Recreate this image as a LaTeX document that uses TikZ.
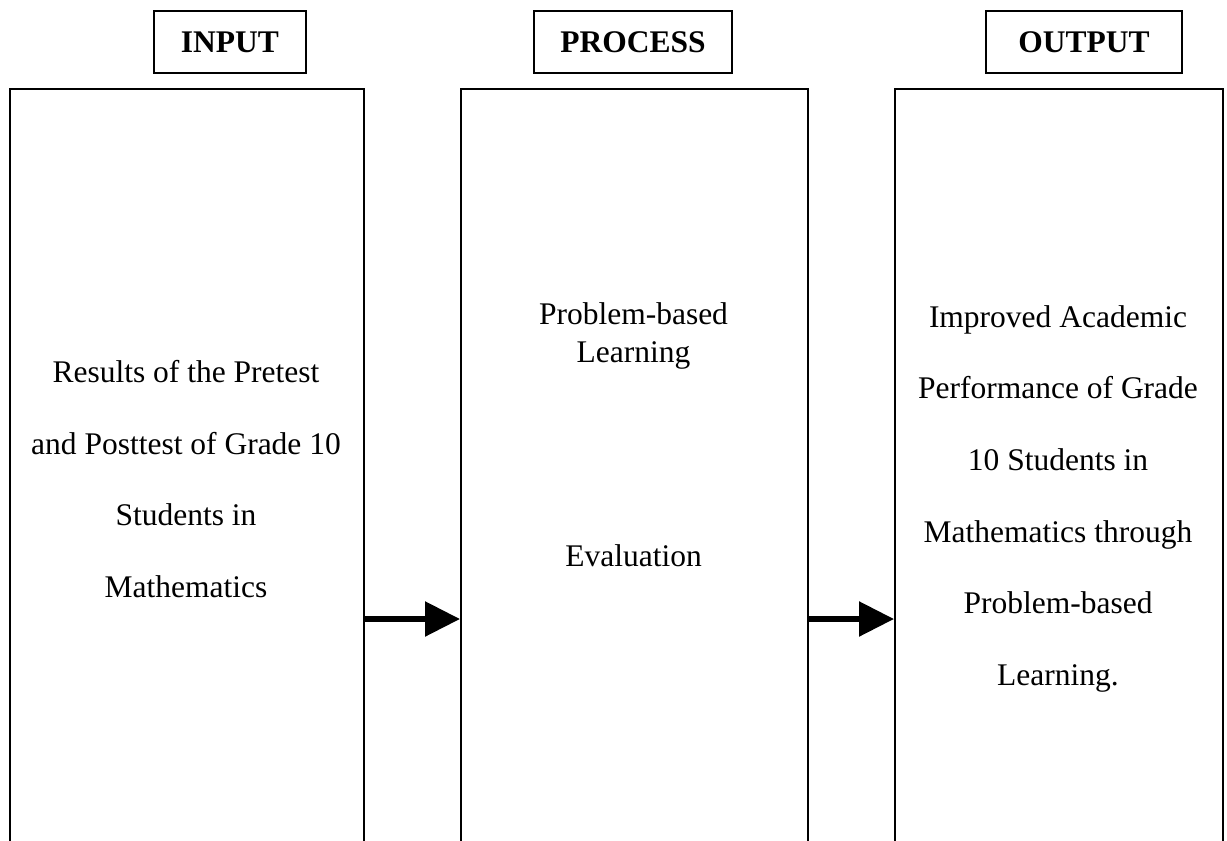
\documentclass[tikz,border=0pt]{standalone}
\usepackage{fontspec}
\setmainfont{Liberation Serif}
\usetikzlibrary{arrows.meta}
\begin{document}
\begin{tikzpicture}[x=1pt,y=-1pt,
  every node/.style={font=\fontsize{31.5}{36}\selectfont, inner sep=0pt},
  headbox/.style={draw, line width=1.8pt, font=\fontsize{31.5}{36}\selectfont\bfseries,
    minimum height=62pt, anchor=north west},
  colbox/.style={draw, line width=1.8pt, minimum height=800pt, anchor=north west},
  txt/.style={anchor=base},
  flow/.style={line width=5.5pt, -{Triangle[length=35pt,width=34pt]}}]
  \useasboundingbox (0,0) rectangle (1227,841);
  \begin{scope}
    \clip (0,0) rectangle (1227,841);
    % column headings
    \node[headbox, minimum width=152pt] (hin) at (153,10) {INPUT};
    \node[headbox, minimum width=198pt] (hproc) at (533,10) {PROCESS};
    \node[headbox, minimum width=196pt] (hout) at (985,10) {OUTPUT};
    % tall columns running off the bottom edge
    \node[colbox, minimum width=354pt] (inbox) at (9,88) {};
    \node[colbox, minimum width=347pt] (procbox) at (460,88) {};
    \node[colbox, minimum width=328pt] (outbox) at (894,88) {};
  \end{scope}
  % input text
  \node[txt] (in1) at (186,382) {Results of the Pretest};
  \node[txt] (in2) at (186,454) {and Posttest of Grade 10};
  \node[txt] (in3) at (186,525) {Students in};
  \node[txt] (in4) at (186,597) {Mathematics};
  % process text
  \node[txt] (pr1) at (633.5,324) {Problem-based};
  \node[txt] (pr2) at (633.5,362) {Learning};
  \node[txt] (pr3) at (633.5,566) {Evaluation};
  % output text
  \node[txt] (out1) at (1058,327) {Improved Academic};
  \node[txt] (out2) at (1058,398) {Performance of Grade};
  \node[txt] (out3) at (1058,470) {10 Students in};
  \node[txt] (out4) at (1058,542) {Mathematics through};
  \node[txt] (out5) at (1058,613) {Problem-based};
  \node[txt] (out6) at (1058,685) {Learning.};
  % arrows between columns
  \coordinate (arrowrow) at (0,619);
  \draw[flow] (inbox.east |- arrowrow) -- (procbox.west |- arrowrow);
  \draw[flow] (procbox.east |- arrowrow) -- (outbox.west |- arrowrow);
\end{tikzpicture}
\end{document}
